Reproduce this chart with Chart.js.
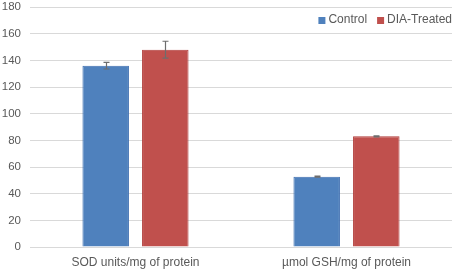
<!DOCTYPE html>
<html>
<head>
<meta charset="utf-8">
<script src="https://cdn.jsdelivr.net/npm/chart.js@4"></script>
<style>
    html, body { margin: 0; padding: 0; background: #fff; }
    #wrap { width: 454px; height: 269px; }
</style>
</head>
<body>
<div id="wrap"><canvas id="myChart" width="454" height="269"></canvas></div>
<script>
var labels = ["SOD units/mg of protein", "\u00b5mol GSH/mg of protein"];
var seriesNames = ["Control", "DIA-Treated"];
var controlValues = [136, 52.7];
var treatedValues = [148, 83];
var controlErrors = [2.5, 0.4];
var treatedErrors = [6.3, 0.4];

// draws the error bars (whiskers) on top of each bar
var errorBars = {
    id: "errorBars",
    afterDatasetsDraw: function (chart) {
        var ctx = chart.ctx;
        var y = chart.scales.y;
        var errs = [controlErrors, treatedErrors];
        ctx.save();
        ctx.strokeStyle = "#6d6d6d";
        ctx.lineWidth = 1.2;
        for (var d = 0; d < chart.data.datasets.length; d++) {
            var meta = chart.getDatasetMeta(d);
            var vals = chart.data.datasets[d].data;
            for (var i = 0; i < meta.data.length; i++) {
                var x = Math.round(meta.data[i].x) + 0.5;
                var top = y.getPixelForValue(vals[i] + errs[d][i]);
                var bot = y.getPixelForValue(vals[i] - errs[d][i]);
                ctx.beginPath();
                ctx.moveTo(x, top);
                ctx.lineTo(x, bot);
                ctx.moveTo(x - 3, top);
                ctx.lineTo(x + 3, top);
                ctx.moveTo(x - 3, bot);
                ctx.lineTo(x + 3, bot);
                ctx.stroke();
            }
        }
        ctx.restore();
    },
};

// small legend inside the plot, top right (built-in one would push the plot down)
var insideLegend = {
    id: "insideLegend",
    afterDraw: function (chart) {
        var ctx = chart.ctx;
        var right = chart.chartArea.right;
        var yMid = 20;
        ctx.save();
        ctx.font = "12px 'Liberation Sans', Arial, sans-serif";
        ctx.textBaseline = "middle";
        var x = right;
        for (var d = chart.data.datasets.length - 1; d >= 0; d--) {
            var ds = chart.data.datasets[d];
            var w = ctx.measureText(seriesNames[d]).width;
            x -= w;
            ctx.fillStyle = "#595959";
            ctx.fillText(seriesNames[d], x, yMid);
            x -= 10;
            ctx.fillStyle = ds.backgroundColor;
            ctx.fillRect(x, yMid - 3, 7, 7);
            x -= 10;
        }
        ctx.restore();
    },
};

Chart.defaults.font.family = "'Liberation Sans', Arial, sans-serif";
Chart.defaults.color = "#595959";

new Chart(document.getElementById("myChart"), {
    type: "bar",
    data: {
        labels: labels,
        datasets: [
            {
                label: seriesNames[0],
                data: controlValues,
                backgroundColor: "#4f81bd",
                borderColor: "#3d6eb0",
                borderWidth: 1,
                categoryPercentage: 0.565,
                barPercentage: 0.78,
            },
            {
                label: seriesNames[1],
                data: treatedValues,
                backgroundColor: "#c0504d",
                borderColor: "#b03c3a",
                borderWidth: 1,
                categoryPercentage: 0.565,
                barPercentage: 0.78,
            },
        ],
    },
    plugins: [errorBars, insideLegend],
    options: {
        responsive: false,
        animation: false,
        layout: {
            padding: { top: 7, right: 2, left: 0, bottom: 0 },
        },
        plugins: {
            tooltip: { enabled: false },
            legend: { display: false },
        },
        scales: {
            x: {
                grid: { display: false },
                border: { display: false },
                ticks: { font: { size: 12 }, padding: 0 },
                afterFit: function (scale) {
                    scale.height = 22;
                },
            },
            y: {
                min: 0,
                max: 180,
                ticks: { stepSize: 20, font: { size: 11.5 }, padding: 9 },
                grid: { color: "#d9d9d9", drawTicks: false },
                border: { display: false },
                afterFit: function (scale) {
                    scale.width = 30;
                    scale.paddingTop = 0;
                    scale.paddingBottom = 0;
                },
            },
        },
    },
});
</script>
</body>
</html>
